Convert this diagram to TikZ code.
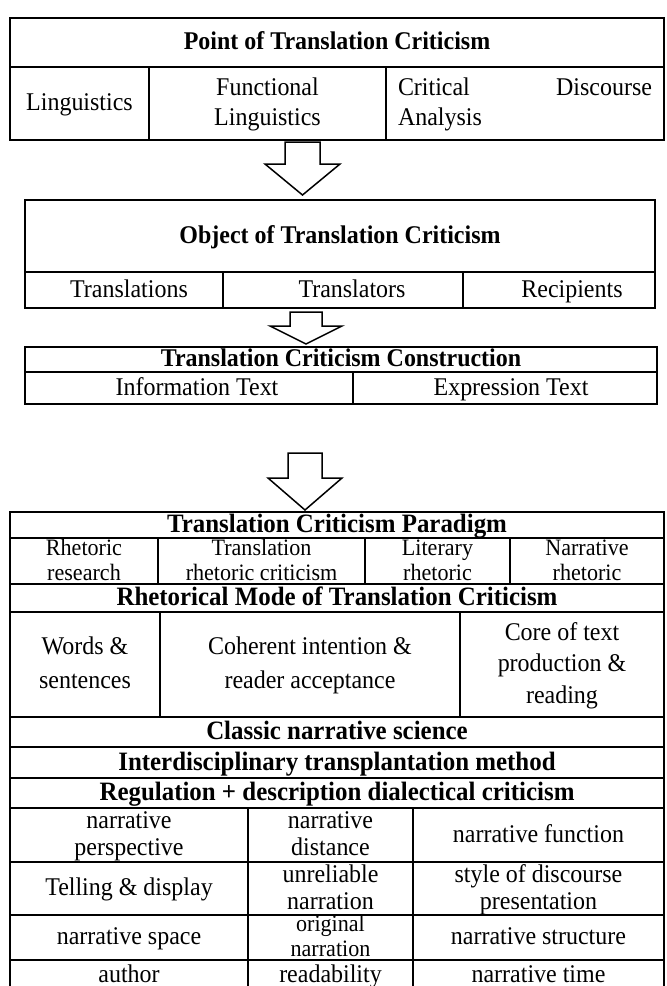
\documentclass[tikz,border=0pt]{standalone}
\usepackage{fontspec}
\setmainfont[FakeStretch=0.94]{Liberation Serif}
\newcommand{\tst}{\rule[-0.22em]{0pt}{1.02em}}
\tikzset{
  cellst/.style={draw, line width=1.4pt, inner sep=0pt},
  txt/.style={inner sep=0pt, align=center, font=\fontsize{25.5}{27}\selectfont},
  ls/.style={font=\fontsize{25.5}{#1}\selectfont},
  lsmall/.style={font=\fontsize{23.5}{#1}\selectfont},
  headst/.style={font=\fontsize{25.5}{27}\selectfont\bfseries},
  headbig/.style={font=\fontsize{26.5}{28}\selectfont\bfseries},
  blockarrow/.style={draw, line width=1.5pt, fill=white, line join=miter},
}
% [text options]{x1}{y1}{x2}{y2}{name}{text}
\newcommand{\cellbox}[7][]{%
  \node[cellst, minimum width={#4-#2}, minimum height={#5-#3}] (#6) at ({(#2+#4)/2},{(#3+#5)/2}) {};
  \node[txt, #1] (#6t) at (#6.center) {\tst #7\tst};}
% {x left}{x right}{y top}{y headbase}{head left}{head right}{y tip}
\newcommand{\blockdown}[7]{%
  \draw[blockarrow] (#1,#3) -- (#2,#3) -- (#2,#4) -- (#6,#4) -- ({(#1+#2)/2},#7) -- (#5,#4) -- (#1,#4) -- cycle;}
\begin{document}
\begin{tikzpicture}[x=1pt, y=-1pt]
\useasboundingbox (0,0) rectangle (667,986);
% Box 1
\cellbox[headst]{10}{18}{664}{67}{p0}{Point of Translation Criticism}
\cellbox{10}{67}{149}{140}{p1}{Linguistics}
\cellbox[ls=30]{149}{67}{386}{140}{p2}{Functional\\Linguistics}
\cellbox[ls=30, text width=254pt, align=left]{386}{67}{664}{140}{p3}{Critical\hfill Discourse\\Analysis}
% Arrow 1
\blockdown{285}{320}{142}{164}{265}{340}{195}
% Box 2
\cellbox[headst]{25}{200}{655}{272}{o0}{Object of Translation Criticism}
\cellbox{25}{272}{223}{308}{o1}{\hspace*{10pt}Translations}
\cellbox{223}{272}{463}{308}{o2}{\hspace*{18pt}Translators}
\cellbox{463}{272}{655}{308}{o3}{\hspace*{26pt}Recipients}
% Arrow 2
\blockdown{290}{322}{312}{326}{270}{342}{344}
% Box 3
\cellbox[headst]{25}{347}{657}{372}{c0}{Translation Criticism Construction}
\cellbox{25}{372}{353}{404}{c1}{\hspace*{16pt}Information Text}
\cellbox{353}{372}{657}{404}{c2}{\hspace*{12pt}Expression Text}
% Arrow 3
\blockdown{288}{322}{453}{478}{268}{342}{510}
% Box 4
\cellbox[headbig]{10}{512}{664}{538}{t0}{Translation Criticism Paradigm}
\cellbox[lsmall=21.5]{10}{538}{158}{584}{t1}{Rhetoric\\research}
\cellbox[lsmall=21.5]{158}{538}{365}{584}{t2}{Translation\\rhetoric criticism}
\cellbox[lsmall=21.5]{365}{538}{510}{584}{t3}{Literary\\rhetoric}
\cellbox[lsmall=21.5]{510}{538}{664}{584}{t4}{Narrative\\rhetoric}
\cellbox[headbig]{10}{584}{664}{612}{m0}{Rhetorical Mode of Translation Criticism}
\cellbox[ls=34]{10}{612}{160}{717}{m1}{Words \&\\sentences}
\cellbox[ls=34]{160}{612}{460}{717}{m2}{Coherent intention \&\\reader acceptance}
\cellbox[ls=31.5]{460}{612}{664}{717}{m3}{Core of text\\production \&\\reading}
\cellbox[headbig]{10}{717}{664}{747}{k0}{Classic narrative science}
\cellbox[headbig]{10}{747}{664}{778}{k1}{Interdisciplinary transplantation method}
\cellbox[headbig]{10}{778}{664}{808}{k2}{Regulation + description dialectical criticism}
\cellbox[ls=25]{10}{808}{248}{862}{n1}{narrative\\perspective}
\cellbox[ls=25]{248}{808}{413}{862}{n2}{narrative\\distance}
\cellbox{413}{808}{664}{862}{n3}{narrative function}
\cellbox{10}{862}{248}{915}{n4}{Telling \& display}
\cellbox[ls=24]{248}{862}{413}{915}{n5}{unreliable\\narration}
\cellbox[ls=24]{413}{862}{664}{915}{n6}{style of discourse\\presentation}
\cellbox{10}{915}{248}{960}{n7}{narrative space}
\cellbox[lsmall=21]{248}{915}{413}{960}{n8}{original\\narration}
\cellbox{413}{915}{664}{960}{n9}{narrative structure}
\cellbox{10}{960}{248}{990}{n10}{author}
\cellbox{248}{960}{413}{990}{n11}{readability}
\cellbox{413}{960}{664}{990}{n12}{narrative time}
\end{tikzpicture}
\end{document}
